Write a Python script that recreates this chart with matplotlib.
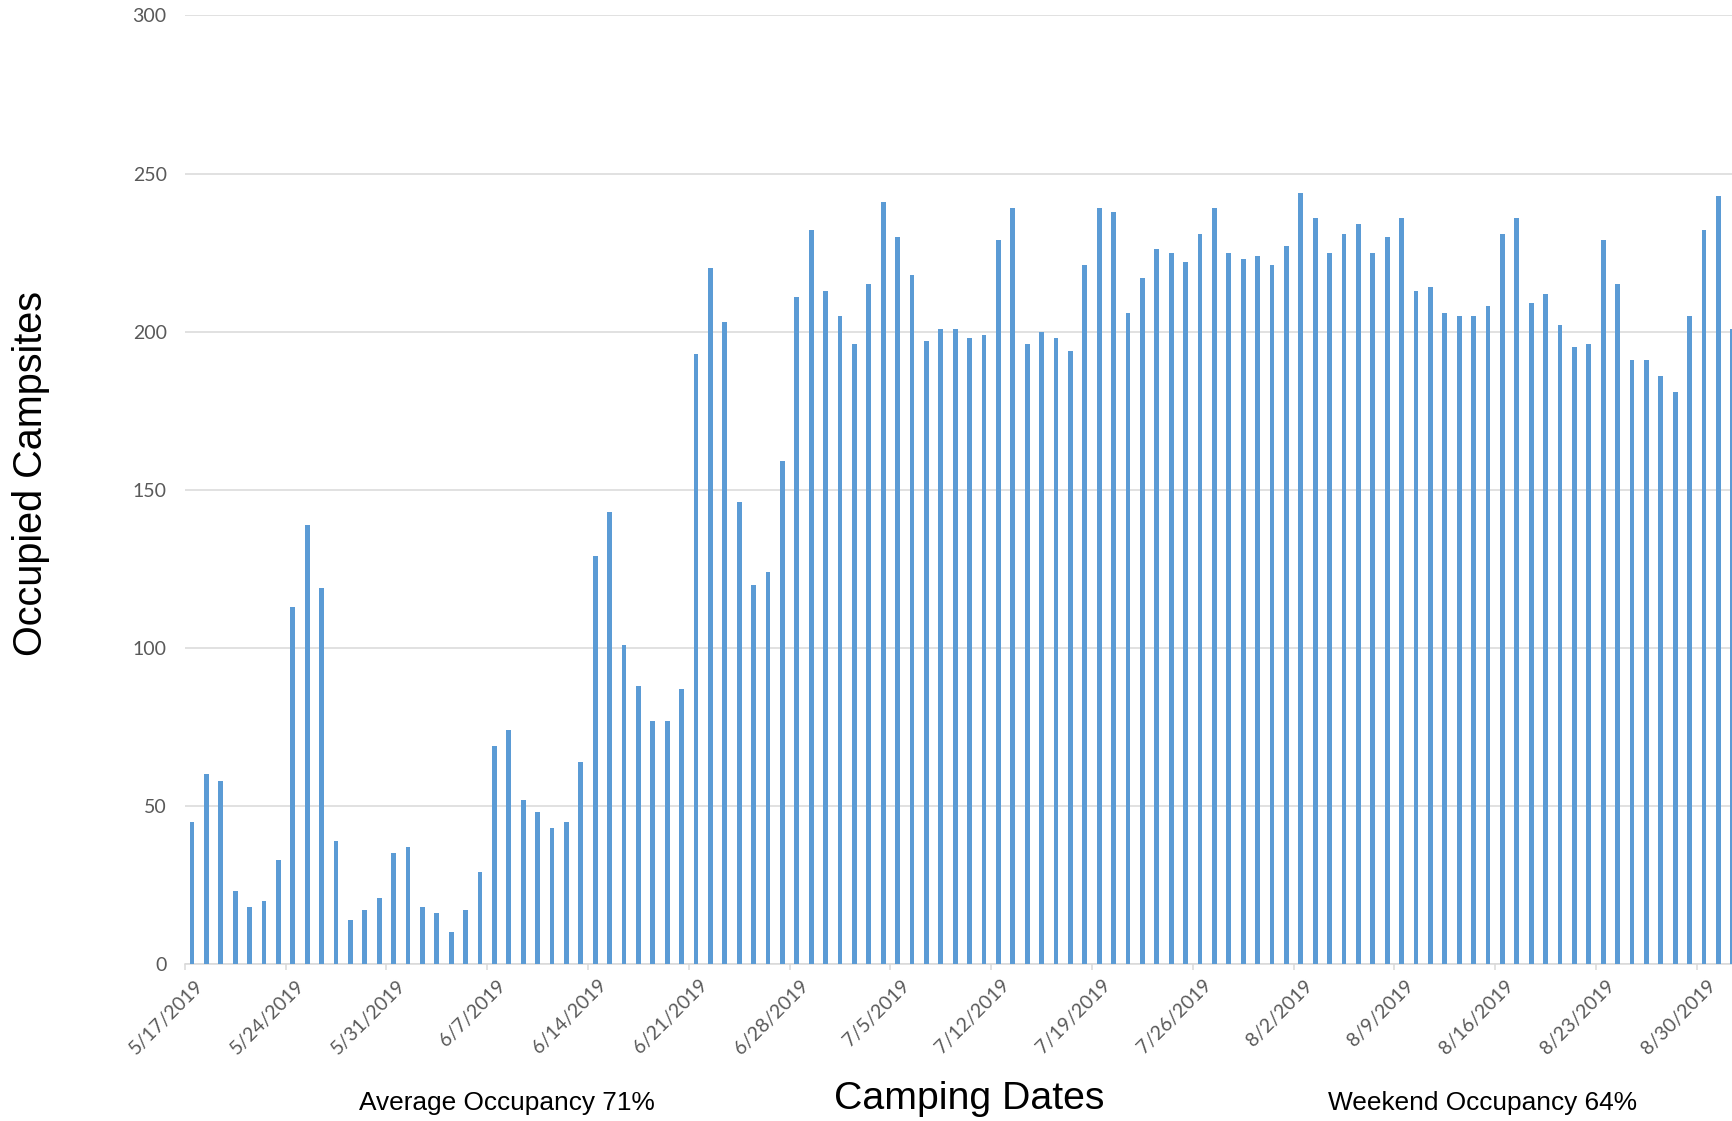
import numpy as np
import matplotlib.pyplot as plt
from matplotlib.transforms import ScaledTranslation

# occupied campsites per night, 5/17/2019 through 9/1/2019
may = [45, 60, 58, 23, 18, 20, 33, 113, 139, 119, 39, 14, 17, 21, 35]
june = [37, 18, 16, 10, 17, 29, 69, 74, 52, 48,
        43, 45, 64, 129, 143, 101, 88, 77, 77, 87,
        193, 220, 203, 146, 120, 124, 159, 211, 232, 213]
july = [205, 196, 215, 241, 230, 218, 197, 201, 201, 198,
        199, 229, 239, 196, 200, 198, 194, 221, 239, 238,
        206, 217, 226, 225, 222, 231, 239, 225, 223, 224, 221]
august = [227, 244, 236, 225, 231, 234, 225, 230, 236, 213,
          214, 206, 205, 205, 208, 231, 236, 209, 212, 202,
          195, 196, 229, 215, 191, 191, 186, 181, 205, 232, 243]
september = [201]

week_labels = ["5/17/2019", "5/24/2019", "5/31/2019", "6/7/2019",
               "6/14/2019", "6/21/2019", "6/28/2019", "7/5/2019",
               "7/12/2019", "7/19/2019", "7/26/2019", "8/2/2019",
               "8/9/2019", "8/16/2019", "8/23/2019", "8/30/2019"]

avg_text = "Average Occupancy 71%"
weekend_text = "Weekend Occupancy 64%"

occupied = np.array(may + june + july + august + september)
day = np.arange(len(occupied))

fig = plt.figure(figsize=(17.33, 11.21), dpi=100)
ax = fig.add_axes([0.1066, 0.14, 0.8934, 0.8462])

ax.bar(day + 0.5, occupied, width=0.33, color="#5B9BD5", zorder=3)

ax.set_xlim(0, 107.51)
ax.set_ylim(0, 300)
ax.set_yticks(np.arange(0, 301, 50))
ax.yaxis.grid(True, color="#D9D9D9", linewidth=1.1, zorder=0)
ax.set_axisbelow(True)

for side in ["top", "right", "left"]:
    ax.spines[side].set_visible(False)
ax.spines["bottom"].set_color("#D9D9D9")
ax.spines["bottom"].set_linewidth(1.1)

tick_font = dict(family=["Lato", "DejaVu Sans"], size=14, color="#595959")
ax.tick_params(axis="y", length=0, pad=13)
ax.tick_params(axis="x", length=4, width=1.1, color="#D9D9D9",
               direction="out", pad=5)
for lbl in ax.get_yticklabels():
    lbl.set(**tick_font)

ax.set_xticks(np.arange(0, 106, 7))
ax.set_xticklabels(week_labels, rotation=45, ha="right", va="top",
                   rotation_mode="anchor", **tick_font)
shift = ScaledTranslation(0.10, 0, fig.dpi_scale_trans)
for lbl in ax.get_xticklabels():
    lbl.set_transform(lbl.get_transform() + shift)

title_font = dict(family=["Liberation Sans", "DejaVu Sans"], color="black")
fig.text(31 / 1733, 1 - 473 / 1121, "Occupied Campsites", rotation=90,
         ha="center", va="center", size=28.5, **title_font)
fig.text(969 / 1733, 1 - 1099 / 1121, "Camping Dates",
         ha="center", va="center", size=28.3, **title_font)
fig.text(507 / 1733, 1 - 1103 / 1121, avg_text,
         ha="center", va="center", size=18.9, **title_font)
fig.text(1483 / 1733, 1 - 1103 / 1121, weekend_text,
         ha="center", va="center", size=18.9, **title_font)

fig.savefig("out.png", dpi=100)
